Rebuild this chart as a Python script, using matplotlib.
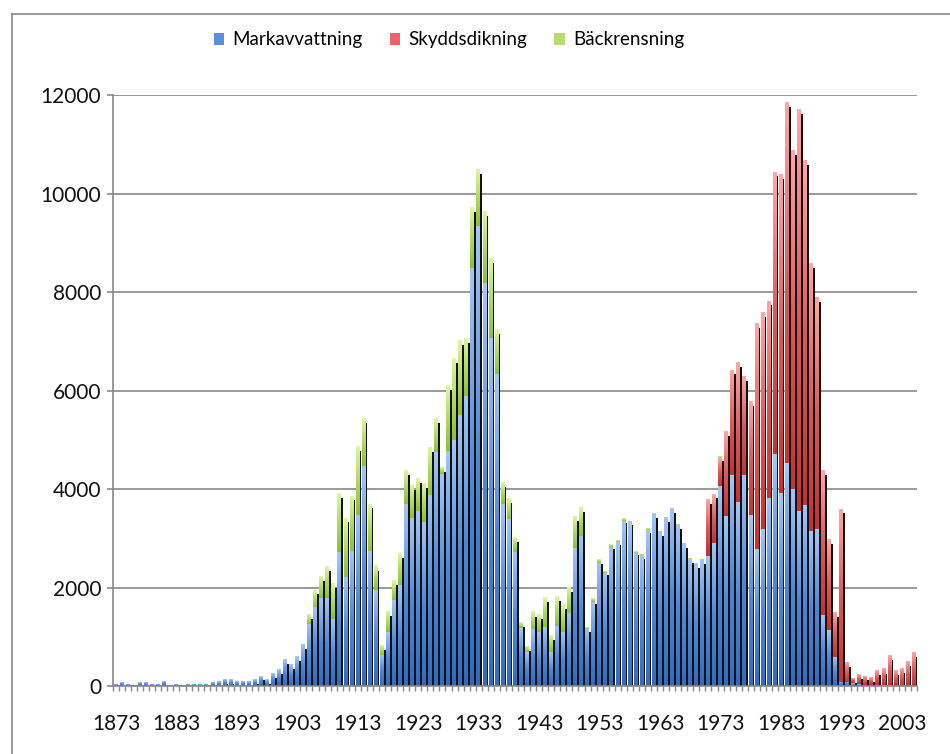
import numpy as np
import matplotlib
matplotlib.use("Agg")
import matplotlib.pyplot as plt
from matplotlib.patches import Patch
from matplotlib.lines import Line2D
from matplotlib.colors import LinearSegmentedColormap

plt.rcParams['font.family'] = ['Lato', 'DejaVu Sans']

# ---------------- data ----------------
years = list(range(1873, 2006))

markavvattning = [
    40, 68, 40, 20, 68, 68, 40, 40, 95, 20,            # 1873-1882
    40, 20, 40, 40, 40, 40, 68, 95, 136, 136,          # 1883-1892
    95, 95, 95, 122, 203, 136, 244, 339, 542, 440,     # 1893-1902
    590, 840, 1260, 1610, 1780, 1780, 1360, 2720, 2220, 2750,   # 1903-1912
    3480, 4460, 2750, 1940, 630, 1100, 1750, 2050, 3700, 3410,  # 1913-1922
    3560, 3340, 3880, 4760, 4300, 4770, 4990, 5500, 5880, 8480, # 1923-1932
    9340, 8190, 7060, 6340, 3690, 3400, 2730, 1170, 690, 1150,  # 1933-1942
    1100, 1190, 690, 1220, 1100, 1490, 2810, 3050, 1160, 1700,  # 1943-1952
    2500, 2300, 2830, 2920, 3360, 3340, 2710, 2660, 3170, 3510, # 1953-1962
    3140, 3430, 3610, 3260, 2890, 2570, 2490, 2570, 2640, 2910, # 1963-1972
    4070, 3450, 4290, 3730, 4290, 3480, 2780, 3180, 3820, 4720, # 1973-1982
    3910, 4530, 4000, 3550, 3680, 3140, 3180, 1450, 1140, 590,  # 1983-1992
    90, 90, 55, 40, 30, 20, 20, 15, 15, 10,                     # 1993-2002
    10, 0, 0,                                                   # 2003-2005
]

skyddsdikning = [0] * 98 + [                                    # 1873-1970
    1140, 990,                                                  # 1971-1972
    560, 1720, 2130, 2840, 1990, 2300, 4580, 4400, 4000, 5720,  # 1973-1982
    6470, 7310, 6880, 8150, 6990, 5440, 4710, 2930, 1830, 900,  # 1983-1992
    3510, 390, 100, 185, 175, 157, 295, 325, 600, 305,          # 1993-2002
    350, 490, 680,                                              # 2003-2005
]

backrensning = [0] * 32 + [                                     # 1873-1904
    200, 340, 440, 645, 730, 1180, 1190, 1110,                  # 1905-1912
    1390, 970, 950, 490, 200, 410, 390, 645, 680, 665,          # 1913-1922
    660, 780, 970, 680, 140, 1330, 1660, 1510, 1165, 1230,      # 1923-1932
    1140, 1450, 1620, 905, 445, 410, 290, 120, 110, 350,        # 1933-1942
    350, 600, 330, 600, 550, 515, 635, 580, 35, 65,             # 1943-1952
    65, 35, 45, 40, 45, 20, 30, 10, 35, 0,                      # 1953-1962
    0, 0, 0, 20, 0, 10, 0, 0, 0, 0,                             # 1963-1972
    30,                                                         # 1973
] + [0] * 32                                                    # 1974-2005

series_names = ["Markavvattning", "Skyddsdikning", "Bäckrensning"]
label_years = list(range(1873, 2006, 10))
y_ticks = [0, 2000, 4000, 6000, 8000, 10000, 12000]

assert len(markavvattning) == len(years)
assert len(skyddsdikning) == len(years)
assert len(backrensning) == len(years)

# ---------------- style ----------------
W, H = 950, 754
fig = plt.figure(figsize=(W / 100, H / 100), dpi=100)
ax_left, ax_right, ax_bottom, ax_top = 113, 917, 686, 95
ax = fig.add_axes([ax_left / W, 1 - ax_bottom / H,
                   (ax_right - ax_left) / W, (ax_bottom - ax_top) / H])

grey = '#878787'
cmaps = [
    LinearSegmentedColormap.from_list('b', ['#2f6cc0', '#5088d8', '#a4c6f5']),
    LinearSegmentedColormap.from_list('r', ['#c43232', '#dc5a5a', '#ffa6a6']),
    LinearSegmentedColormap.from_list('g', ['#8fbf36', '#b2da62', '#e0f7a2']),
]
legend_cols = ['#5a8fdc', '#e46868', '#b8dd6e']

x = np.array(years, dtype=float)
b = np.array(markavvattning, dtype=float)
r = np.array(skyddsdikning, dtype=float)
g = np.array(backrensning, dtype=float)
total = b + r + g

bar_w = 0.50
bar_off = -0.12
sh_w = 0.50
sh_off = 0.33
sh_drop = 90  # shadow lowered by ~4.5 px

# shadows
sh_h = np.clip(total - sh_drop, 0, None)
ax.bar(x + sh_off, sh_h, width=sh_w, color='#111111', zorder=2, linewidth=0)

grad = np.linspace(0, 1, 64).reshape(-1, 1)
bottoms = np.zeros_like(b)
for vals, cm in zip([b, r, g], cmaps):
    bars = ax.bar(x + bar_off, vals, width=bar_w, bottom=bottoms,
                  color=cm(0.5), zorder=3, linewidth=0)
    for p in bars:
        h = p.get_height()
        if h <= 0:
            continue
        x0, y0, w = p.get_x(), p.get_y(), p.get_width()
        ax.imshow(grad, extent=[x0, x0 + w, y0, y0 + h], origin='lower',
                  aspect='auto', cmap=cm, zorder=3.1, interpolation='bilinear')
    bottoms = bottoms + vals

ax.set_xlim(years[0] - 0.5, years[-1] + 0.5)
ax.set_ylim(0, 12000)

# axes styling
for s in ['top', 'right']:
    ax.spines[s].set_visible(False)
for s in ['left', 'bottom']:
    ax.spines[s].set_color(grey)
    ax.spines[s].set_linewidth(1.2)
    ax.spines[s].set_zorder(4)

ax.set_yticks(y_ticks)
ax.set_yticklabels([str(v) for v in y_ticks])
ax.yaxis.grid(True, color=grey, linewidth=1.2, zorder=1)
ax.set_axisbelow(True)
ax.tick_params(axis='y', length=4.5, width=1.2, color=grey, pad=4,
               labelsize=15, labelcolor='#111111')

ax.set_xticks(label_years)
ax.set_xticklabels([str(v) for v in label_years])
ax.set_xticks(np.arange(years[0] - 0.5, years[-1] + 0.6, 1), minor=True)
ax.tick_params(axis='x', which='major', length=0, pad=20,
               labelsize=15, labelcolor='#111111')
ax.tick_params(axis='x', which='minor', length=3.5, width=1.0, color=grey)

# legend
handles = [Patch(facecolor=c, edgecolor='none') for c in legend_cols]
fig.legend(handles, series_names, loc='center', ncol=3,
           bbox_to_anchor=(449 / W, 1 - 40 / H), frameon=False,
           fontsize=13.5, handlelength=0.55, handleheight=0.55,
           handletextpad=0.45, columnspacing=1.45)

# outer chart border (partially visible)
fig.add_artist(Line2D([11.5 / W, 11.5 / W], [0, 1 - 14 / H],
                      transform=fig.transFigure, color=grey, lw=1.2))
fig.add_artist(Line2D([11.5 / W, 1], [1 - 14 / H, 1 - 14 / H],
                      transform=fig.transFigure, color=grey, lw=1.2))

fig.savefig('out.png', dpi=100, facecolor='white')
